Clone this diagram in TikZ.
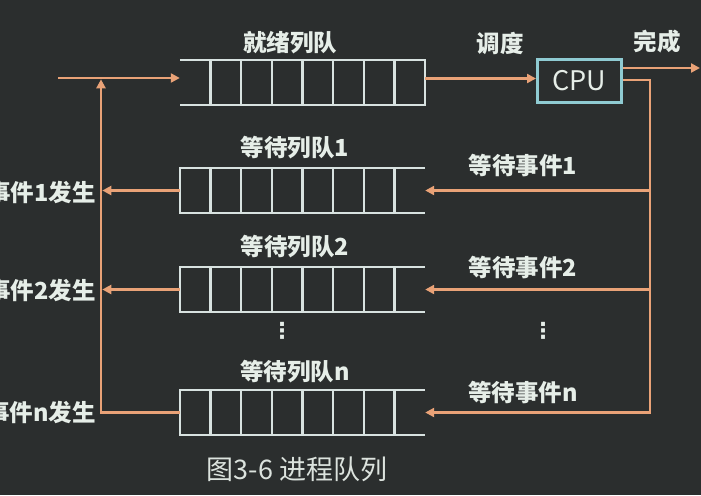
\documentclass[tikz,border=0pt]{standalone}
\usepackage{fontspec}
\usetikzlibrary{arrows.meta,calc}
\newfontfamily\cjk{Noto Sans CJK SC}
\newfontfamily\sym{DejaVu Sans}
\definecolor{board}{HTML}{2B2E2E}
\definecolor{chalk}{HTML}{E6EEE8}
\definecolor{qline}{HTML}{D8E2E0}
\definecolor{peach}{HTML}{E9A277}
\definecolor{cpuedge}{HTML}{8FCBD2}

\begin{document}
\begin{tikzpicture}
	[x=1pt, y=-1pt,
	every node/.style={inner sep=0pt, text=chalk, font=\cjk\bfseries\fontsize{23.5}{23.5}\selectfont},
	queue/.style={minimum width=245pt, minimum height=45pt},
	cell/.style={draw=qline, line width=2.2pt},
	flow/.style={draw=peach, line width=2.6pt},
	arr/.style={flow, -{Triangle[length=9pt,width=9pt]}},
	vdot/.style={font=\sym\bfseries\fontsize{22}{22}\selectfont}]
	\useasboundingbox (0,0) rectangle (701,495);
	\fill[board] (0,0) rectangle (701,495);
	% queues and cpu
	\node (rq) [queue] at (302.5,82.5) {};
	\node (wq1) [queue] at (302.5,190.5) {};
	\node (wq2) [queue] at (302.5,289.5) {};
	\node (wqn) [queue] at (302.5,412.5) {};
	\node (cpu) [draw=cpuedge, line width=3pt, minimum width=84pt, minimum height=43pt,
		font=\cjk\fontsize{27}{27}\selectfont] at (579.5,81) {CPU};
	\draw[cell] (rq.north west) -- (rq.north east) -- (rq.south east) -- (rq.south west);
	\foreach \q in {wq1,wq2,wqn}
		\draw[cell] (\q.north east) -- (\q.north west) -- (\q.south west) -- (\q.south east);
	\foreach \q in {rq,wq1,wq2,wqn}
		\foreach \i in {1,...,7}
			\draw[cell] ($(\q.north west)!\i/8!(\q.north east)$) -- ($(\q.south west)!\i/8!(\q.south east)$);
	% labels
	\node (rqt) at (290,43) {就绪列队};
	\node (sched) at (500,43) {调度};
	\node (done) at (657,42) {完成};
	\node (wq1t) at (295,148) {等待列队1};
	\node (wq2t) at (295,247) {等待列队2};
	\node (wqnt) at (295,372) {等待列队n};
	\node (wt1) at (523,165) {等待事件1};
	\node (wt2) at (523,267) {等待事件2};
	\node (wtn) at (523,392) {等待事件n};
	\node (ev1) [anchor=east] at (96,192) {事件1发生};
	\node (ev2) [anchor=east] at (96,290) {事件2发生};
	\node (evn) [anchor=east] at (96,412) {事件n发生};
	\node (ldots) [vdot] at (282,331) {⋮};
	\node (rdots) [vdot] at (543,331) {⋮};
	\node (cap) [font=\cjk\fontsize{27}{27}\selectfont, text=chalk!90!gray] at (297,469) {图3-6 进程队列};
	% connectors
	\coordinate (in) at (58,78);
	\coordinate (lbus) at (101,0);
	\coordinate (rbus) at (650,0);
	\coordinate (out) at (700,0);
	\draw[arr] (in) -- (rq.west |- in);
	\draw[arr] ([yshift=4pt]rq.east) -- ([yshift=4pt]rq.east -| cpu.west);
	\draw[arr] ([yshift=13pt]cpu.east) -- ([yshift=13pt]cpu.east -| out);
	\draw[arr] ([yshift=1pt]cpu.east) -| (rbus |- wqn.east) -- (wqn.east);
	\foreach \q in {wq1,wq2}
		\draw[arr] (rbus |- \q.east) -- (\q.east);
	\draw[arr] (wqn.west) -| ([yshift=-1.3pt]lbus |- in);
	\foreach \q in {wq1,wq2}
		\draw[arr, shorten >=1.3pt] (\q.west) -- (lbus |- \q.west);
\end{tikzpicture}
\end{document}
